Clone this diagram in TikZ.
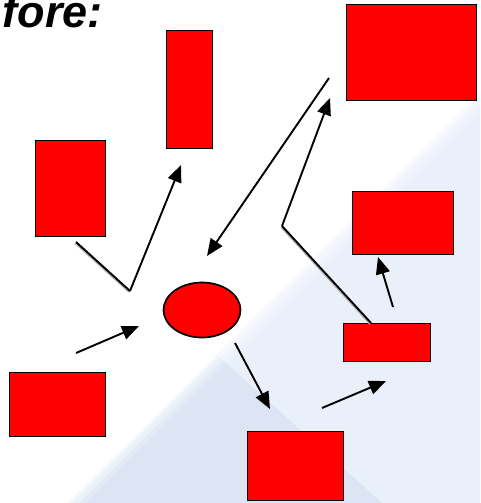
\documentclass[tikz,border=0pt]{standalone}
\usepackage{fontspec}
\setmainfont{Liberation Sans}
\usetikzlibrary{shapes,arrows.meta}

\definecolor{boxred}{RGB}{255,0,0}
\definecolor{paleblue}{RGB}{234,240,250}
\definecolor{softblue}{RGB}{221,229,244}

\begin{document}
\begin{tikzpicture}[x=1pt, y=-1pt]
  \tikzstyle{box} = [rectangle, draw, fill=boxred, line width=1.7pt,
    inner sep=0pt]
  \tikzstyle{blob} = [ellipse, draw, fill=boxred, line width=1.7pt,
    inner sep=0pt, minimum width=77, minimum height=55]
  \tikzstyle{link} = [draw, line width=1.9pt,
    -{Triangle[length=17pt, width=14pt]}]
  \tikzstyle{wire} = [draw, line width=1.9pt,
    preaction={draw=gray!60, line width=1.6pt,
      transform canvas={xshift=-0.8pt, yshift=-1.2pt}}]

  \useasboundingbox (0,0) rectangle (480,503);
  \clip (0,0) rectangle (480,503);

  % Background
  \fill[white] (0,0) rectangle (480,503);
  \fill[paleblue] (68,503) -- (480,93) -- (480,503) -- cycle;
  \fill[softblue] (68,503) -- (218,356) -- (382,503) -- cycle;
  \foreach \w/\o in {26/0.2, 16/0.3, 7/0.4}
    \draw[white, line width=\w pt, opacity=\o] (58,513) -- (490,83);

  % Place nodes
  \node[anchor=base east, inner sep=0pt,
    font=\fontsize{45}{45}\selectfont\bfseries\itshape] (title) at (103,28) {fore:};
  \node[box, minimum width=46, minimum height=118] (top) at (189.5,89.5) {};
  \node[box, minimum width=70, minimum height=96] (left) at (70.5,188.5) {};
  \node[box, minimum width=130, minimum height=96] (corner) at (411.5,52.5) {};
  \node[box, minimum width=101, minimum height=63] (upper) at (403,223) {};
  \node[blob] (hub) at (202,310) {};
  \node[box, minimum width=87, minimum height=38] (small) at (387,342.5) {};
  \node[box, minimum width=96, minimum height=69] (bottom) at (295.5,466) {};
  \node[box, minimum width=96, minimum height=64] (lower) at (57.5,404.5) {};

  % Arrow ends
  \coordinate (left-out) at (76,242);
  \coordinate (knee-l) at (130,291);
  \coordinate (top-in) at (181,165);
  \coordinate (corner-out) at (329,78);
  \coordinate (hub-top) at (207,256);
  \coordinate (small-out) at (371,323);
  \coordinate (knee-r) at (282,226);
  \coordinate (corner-in) at (330,98);
  \coordinate (small-up) at (393,307);
  \coordinate (upper-in) at (378,257);
  \coordinate (lower-out) at (76,353);
  \coordinate (hub-left) at (139,326);
  \coordinate (hub-out) at (235,343);
  \coordinate (bottom-in) at (270,409);
  \coordinate (bottom-out) at (322,408);
  \coordinate (small-in) at (386,381);

  % Draw edges
  \path [wire] (left-out) -- (knee-l);
  \path [link] (knee-l) -- (top-in);
  \path [link] (corner-out) -- (hub-top);
  \path [wire] (small-out) -- (knee-r);
  \path [link] (knee-r) -- (corner-in);
  \path [link] (small-up) -- (upper-in);
  \path [link] (lower-out) -- (hub-left);
  \path [link] (hub-out) -- (bottom-in);
  \path [link] (bottom-out) -- (small-in);

\end{tikzpicture}
\end{document}
